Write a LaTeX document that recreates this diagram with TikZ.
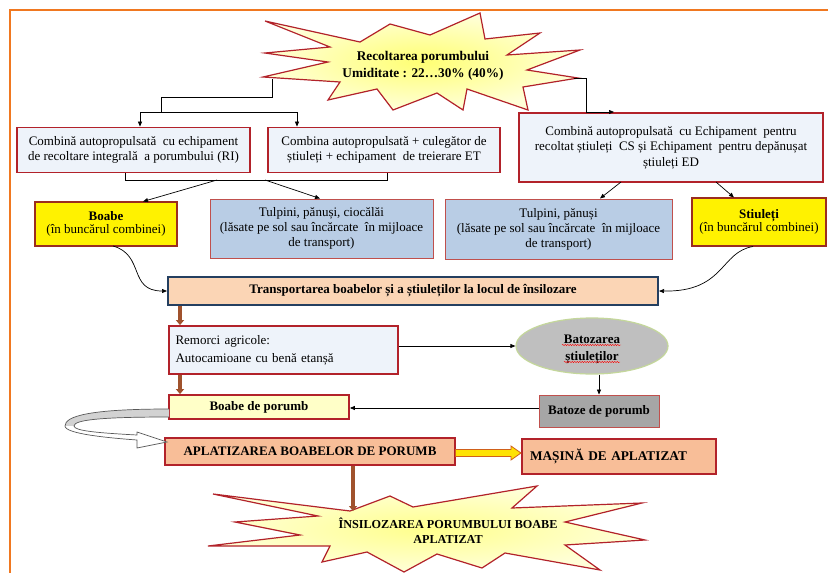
\documentclass[tikz,border=0pt]{standalone}
\usepackage{fontspec}
\setmainfont{Liberation Serif}
\usetikzlibrary{arrows.meta,calc,decorations.pathmorphing,shapes.geometric}
\definecolor{dred}{HTML}{B2222A}
\definecolor{bred}{HTML}{C0504D}
\definecolor{lfill}{HTML}{EEF3FA}
\definecolor{tblue}{HTML}{B9CDE5}
\definecolor{yborder}{HTML}{9B2D1F}
\definecolor{peach}{HTML}{FBD5B5}
\definecolor{navy}{HTML}{243F60}
\definecolor{salmon}{HTML}{F8BE98}
\definecolor{ellgray}{HTML}{BFBFBF}
\definecolor{ellb}{HTML}{C4D79B}
\definecolor{bgray}{HTML}{A6A6A6}
\definecolor{brownA}{HTML}{A0522D}
\definecolor{frame}{HTML}{F07820}
\definecolor{starfill}{HTML}{FFFFD8}
\definecolor{hollowO}{HTML}{D0601A}
\definecolor{lyel}{HTML}{FFFFC8}
\begin{document}
\begin{tikzpicture}[x=1pt,y=-1pt,
  every node/.style={inner sep=0pt},
  box/.style={draw=dred, line width=1.8pt, fill=lfill, align=center, font=\fontsize{13}{15.5}\selectfont},
  tbox/.style={draw=bred, line width=0.8pt, fill=tblue, align=center, font=\fontsize{13}{15}\selectfont},
  ybox/.style={draw=yborder, line width=2.4pt, fill=yellow, align=center, font=\fontsize{13}{13.5}\selectfont},
  arr/.style={line width=0.7pt, -{Triangle[length=5pt,width=4pt]}},
  barr/.style={line width=4pt, draw=brownA, -{Triangle[length=5pt,width=8pt]}},
  startxt/.style={align=center, font=\bfseries\fontsize{13.3}{17}\selectfont},
  wavy/.style={red, line width=0.4pt, decorate, decoration={snake, amplitude=0.7pt, segment length=2.5pt}},
]
\useasboundingbox (0,0) rectangle (828,573);
\fill[white] (0,0) rectangle (828,573);
\draw[frame, line width=2.5pt] (10,573) -- (10,10) -- (828,10);

% top star
\shadedraw[inner color=yellow!55, outer color=starfill, draw=dred, line width=1.2pt, line join=miter]
 (265,21) -- (360,42) -- (390,24) -- (430,35) -- (480,13) -- (485,39) -- (540,33) -- (507,55)
 -- (580,50) -- (527,70) -- (578,78) -- (523,87) -- (528,110) -- (467,89) -- (463,110) -- (437,93)
 -- (393,110) -- (377,89) -- (328,100) -- (340,82) -- (263,77) -- (328,62) -- (265,53) -- (330,47) -- cycle;
\node[startxt] (rec) at (423,65.5) {Recoltarea porumbului\\Umiditate : 22…30\% (40\%)};

% bottom star
\shadedraw[inner color=yellow!45, outer color=starfill, draw=dred, line width=1.2pt, line join=miter]
 (213,494) -- (350,511) -- (390,496) -- (413,507) -- (537,486) -- (512,508) -- (642,503) -- (565,522)
 -- (645,540) -- (565,545) -- (600,570) -- (505,553) -- (482,568) -- (437,554) -- (404,572) -- (367,552)
 -- (322,562) -- (330,546) -- (208,546) -- (300,535) -- (235,522) -- (318,516) -- cycle;
\node[startxt, font=\bfseries\fontsize{12.2}{15}\selectfont] (ins) at (448,531) {ÎNSILOZAREA PORUMBULUI BOABE\\APLATIZAT};

% row 1 boxes
\node[box, minimum width=233pt, minimum height=45pt] (b1) at (133.5,150)
  {Combină autopropulsată \ cu echipament\\de recoltare integrală \ a porumbului (RI)};
\node[box, minimum width=232pt, minimum height=45pt] (b2) at (384,150)
  {Combina autopropulsată + culegător de\\știuleți + echipament \ de treierare ET};
\node[box, minimum width=304pt, minimum height=69pt] (b3) at (671,147.5)
  {Combină autopropulsată \ cu Echipament \ pentru\\recoltat știuleți \ CS și Echipament \ pentru depănușat\\știuleți ED};

% row 2 boxes
\node[ybox, minimum width=142pt, minimum height=44pt] (boabe) at (106,224)
  {\textbf{Boabe}\\(în buncărul combinei)};
\node[tbox, minimum width=223pt, minimum height=59pt] (tul1) at (321.5,228.5)
  {Tulpini, pănuși, ciocălăi\\(lăsate pe sol sau încărcate \ în mijloace\\de transport)};
\node[tbox, minimum width=227pt, minimum height=60pt] (tul2) at (558.5,229)
  {Tulpini, pănuși\\(lăsate pe sol sau încărcate \ în mijloace\\de transport)};
\node[ybox, minimum width=134pt, minimum height=48pt] (stiu) at (759,222)
  {\textbf{Stiuleți}\\(în buncărul combinei)};

% transport
\node[draw=navy, line width=2pt, fill=peach, minimum width=490pt, minimum height=28pt,
  font=\bfseries\fontsize{13}{14}\selectfont] (tr) at (413,291)
  {Transportarea boabelor și a știuleților la locul de însilozare};

% remorci
\node[box, minimum width=229pt, minimum height=48pt, text width=216pt, align=left,
  font=\fontsize{13}{18}\selectfont] (rem) at (283.5,350)
  {Remorci agricole:\\Autocamioane cu benă etanșă};

% boabe de porumb
\node[draw=dred, line width=1.8pt, fill=lyel, minimum width=180pt, minimum height=24pt,
  font=\bfseries\fontsize{13}{14}\selectfont] (bp) at (259,407) {Boabe de porumb};

% ellipse
\node[ellipse, draw=ellb, line width=1.2pt, fill=ellgray, minimum width=152pt, minimum height=56pt] (ell) at (592,346) {};
\node[align=center, font=\bfseries\fontsize{13}{17}\selectfont] (elltxt) at (592,349.5) {Batozarea\\știuleților};
\draw[wavy] (562,345) -- (621,345);
\draw[wavy] (564,362) -- (620,362);

% batoze
\node[draw=bred, line width=0.9pt, fill=bgray, minimum width=120pt, minimum height=32pt,
  font=\bfseries\fontsize{13}{14}\selectfont] (bat) at (599,411) {Batoze de porumb};

% aplatizarea
\node[draw=dred, line width=2.6pt, fill=salmon, minimum width=290pt, minimum height=27pt,
  font=\bfseries\fontsize{13}{14}\selectfont] (apl) at (310,451.5) {APLATIZAREA BOABELOR DE PORUMB};

% masina
\node[draw=dred, line width=2pt, fill=salmon, minimum width=194pt, minimum height=35pt,
  text width=178pt, align=left, font=\bfseries\fontsize{13.3}{14}\selectfont] (mas) at (619,456.5)
  {MAȘINĂ DE APLATIZAT};

% connectors top
\coordinate (t1) at (272,79);
\coordinate (j1) at (161,97);
\coordinate (h1) at (140,112);
\coordinate (h2) at (297,112);
\draw[line width=0.7pt] (t1) |- (j1) -- (j1 |- h1);
\draw[line width=0.7pt] (h1) -- (h2);
\draw[arr] (h1) -- (h1 |- b1.north);
\draw[arr] (h2) -- (h2 |- b2.north);

\coordinate (t2) at (574,78);
\coordinate (h3) at (586,112);
\coordinate (h4) at (614,112);
\draw[line width=0.7pt] (t2) -| (h3);
\draw[arr] (h3) -- (h4);

% below boxes 1 & 2
\coordinate (k1) at (125,180);
\coordinate (k2) at (387,180);
\draw[line width=0.7pt] (k1 |- b1.south) -- (k1) -- (k2) -- (k2 |- b2.south);
\coordinate (m1) at (217,180);
\coordinate (m2) at (265,180);
\draw[arr] (m1) -- (143,201.5);
\draw[arr] (m2) -- (320,198.5);

% below box 3
\coordinate (m3) at (621,182);
\coordinate (m4) at (716,182);
\draw[arr] (m3) -- (600,198.5);
\draw[arr] (m4) -- (734,197.5);

% curves into transport
\draw[arr] (113,246) .. controls (145,255) and (128,291) .. (tr.west);
\draw[arr] (753,246.5) .. controls (720,252) and (725,292) .. (tr.east);

% brown arrows
\draw[barr] (tr.south -| 180,0) -- (rem.north -| 180,0);
\draw[barr] (rem.south -| 180,0) -- (bp.north -| 180,0);
\coordinate (a1) at (353,511);
\draw[barr] (apl.south -| a1) -- (a1);

% remorci -> ellipse, ellipse -> batoze, batoze -> boabe
\draw[arr] (ell.west -| rem.east) -- (ell.west);
\draw[arr] (ell.south -| bat.north) -- (bat.north);
\coordinate (q1) at (539,408);
\draw[arr] (q1) -- (q1 -| bp.east);

% hollow yellow arrow apl -> mas
\draw[draw=hollowO, fill=yellow!85!orange, line width=0.8pt, line join=miter]
  (455.5,449.5) -- (511,449.5) -- (511,446) -- (521,453) -- (511,460) -- (511,456.5) -- (455.5,456.5) -- cycle;

% big curved hollow arrow
\fill[gray!35] (169,409) .. controls (90,409) and (65,416) .. (65,426) -- (74,426)
  .. controls (74,420) and (100,417) .. (169,417) -- cycle;
\fill[white] (65,426) .. controls (65,434) and (110,438) .. (137,440) -- (137,448) -- (167,442)
  -- (137,432) -- (137,435) .. controls (100,433) and (74,431) .. (74,426) -- cycle;
\draw[gray!70!black, line width=0.7pt, line join=miter]
  (169,409) .. controls (90,409) and (65,416) .. (65,426)
  .. controls (65,434) and (110,438) .. (137,440) -- (137,448) -- (167,442)
  -- (137,432) -- (137,435) .. controls (100,433) and (74,431) .. (74,426)
  .. controls (74,420) and (100,417) .. (169,417);
\end{tikzpicture}
\end{document}
